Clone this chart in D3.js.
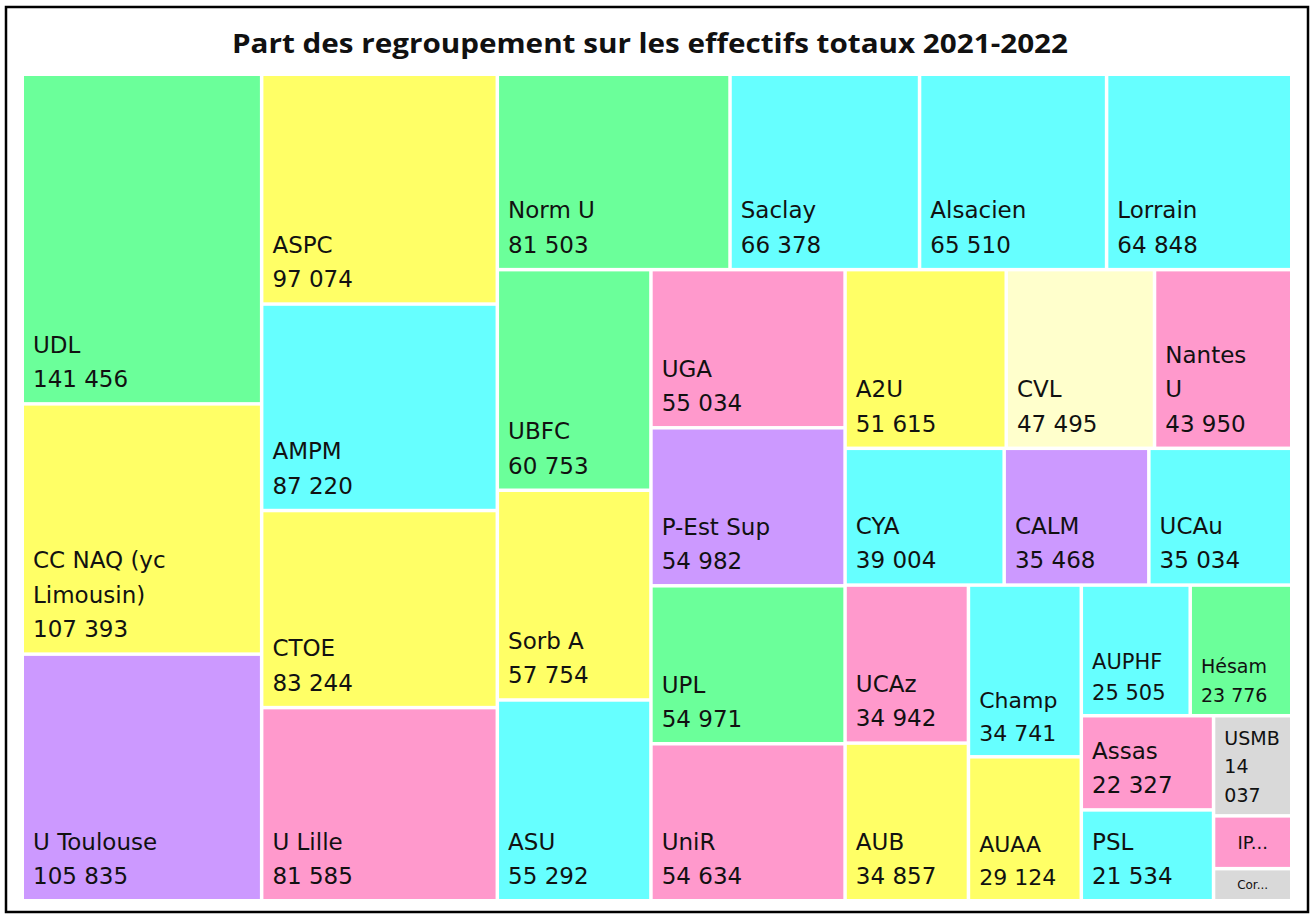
<!DOCTYPE html>
<html>
<head>
<meta charset="utf-8">
<script src="https://cdn.jsdelivr.net/npm/d3@7"></script>
<style>
  body { margin: 0; background: #fff; }
  svg { display: block; }
</style>
</head>
<body>
<svg id="chart"></svg>
<script>
var width = 1313,
    height = 915;

// data
var names = ["UDL", "CC NAQ (yc Limousin)", "U Toulouse", "ASPC", "AMPM", "CTOE", "U Lille",
             "Norm U", "Saclay", "Alsacien", "Lorrain", "UBFC", "Sorb A", "ASU", "UGA",
             "P-Est Sup", "UPL", "UniR", "A2U", "CVL", "Nantes U", "CYA", "CALM", "UCAu",
             "UCAz", "AUB", "Champ", "AUAA", "AUPHF", "Hésam", "Assas", "PSL", "USMB",
             "IP Paris", "Corse"];
var effectifs = [141456, 107393, 105835, 97074, 87220, 83244, 81585,
                 81503, 66378, 65510, 64848, 60753, 57754, 55292, 55034,
                 54982, 54971, 54634, 51615, 47495, 43950, 39004, 35468, 35034,
                 34942, 34857, 34741, 29124, 25505, 23776, 22327, 21534, 14037,
                 7400, 4500];
var groupes = ["A", "B", "C", "B", "D", "B", "E",
               "A", "D", "D", "D", "A", "B", "D", "E",
               "C", "A", "E", "B", "F", "E", "D", "C", "D",
               "E", "B", "D", "B", "D", "A", "E", "D", "G",
               "E", "G"];
var groupeKeys = ["A", "B", "C", "D", "E", "F", "G"];

var title = "Part des regroupement sur les effectifs totaux 2021-2022";

var color = d3.scaleOrdinal()
    .domain(groupeKeys)
    .range(["#6bff9a", "#ffff66", "#cc99ff", "#66ffff", "#ff99cc", "#ffffcc", "#d9d9d9"]);

var fr = d3.formatLocale({decimal: ",", thousands: " ", grouping: [3], currency: ["", " €"]}),
    fmt = fr.format(",d");

var area = {x: 24, y: 76, w: 1266, h: 823},
    labelFont = "'DejaVu Sans', sans-serif",
    pad = 9,
    padRight = 20;

var svg = d3.select("#chart")
    .attr("width", width)
    .attr("height", height);

// frame
svg.append("rect")
    .attr("x", 6).attr("y", 7)
    .attr("width", 1302).attr("height", 905)
    .attr("fill", "#fff")
    .attr("stroke", "#000")
    .attr("stroke-width", 2.5);

svg.append("text")
    .attr("x", 650)
    .attr("y", 53)
    .attr("text-anchor", "middle")
    .attr("font-family", "'Open Sans', sans-serif")
    .attr("font-weight", "bold")
    .attr("font-size", 26)
    .attr("textLength", 836)
    .attr("lengthAdjust", "spacingAndGlyphs")
    .attr("fill", "#111")
    .text(title);

var items = names.map((n, i) => ({name: n, value: effectifs[i], groupe: groupes[i]}));

var root = d3.hierarchy({children: items})
    .sum(d => d.value || 0)
    .sort((a, b) => b.value - a.value);

// squarified rows, a row keeps growing while the newly added cell
// is not less square than the previous one (Excel-like)
function tileRows(parent, x0, y0, x1, y1) {
    var nodes = parent.children,
        n = nodes.length,
        value = parent.value,
        i0 = 0;
    while (i0 < n) {
        var dx = x1 - x0, dy = y1 - y0,
            side = Math.min(dx, dy),
            k = dx * dy / value;
        var ratio = function(v, s) {
            var thick = s * k / side, len = v / s * side;
            return Math.max(thick / len, len / thick);
        };
        var sum = nodes[i0].value,
            last = ratio(sum, sum),
            i1 = i0 + 1;
        while (i1 < n) {
            var s2 = sum + nodes[i1].value,
                r = ratio(nodes[i1].value, s2);
            if (r > last) break;
            sum = s2;
            last = r;
            i1++;
        }
        var row = {value: sum, children: nodes.slice(i0, i1)};
        if (dx < dy) {
            var yy = i1 < n ? y0 + dy * sum / value : y1;
            d3.treemapDice(row, x0, y0, x1, yy);
            y0 = yy;
        } else {
            var xx = i1 < n ? x0 + dx * sum / value : x1;
            d3.treemapSlice(row, x0, y0, xx, y1);
            x0 = xx;
        }
        value -= sum;
        i0 = i1;
    }
}

d3.treemap()
    .tile(tileRows)
    .size([area.w, area.h])
    .paddingInner(3.5)(root);

var ctx = document.createElement("canvas").getContext("2d");
function measure(s, fs) {
    ctx.font = fs + "px " + labelFont;
    return ctx.measureText(s).width;
}

function wrap(str, fs, w) {
    var words = str.split(" "), lines = [], cur = "";
    words.forEach(function(wd) {
        var t = cur ? cur + " " + wd : wd;
        if (cur && measure(t, fs) > w) {
            lines.push(cur);
            cur = wd;
        } else {
            cur = t;
        }
    });
    if (cur) lines.push(cur);
    return lines;
}

function fitLabel(d) {
    var h = d.y1 - d.y0,
        num = fmt(d.data.value);
    // first keep the number on one line, then allow it to wrap
    for (var pass = 0; pass < 2; pass++) {
        var w = d.x1 - d.x0 - pad - (pass === 0 ? padRight : pad);
        for (var fs = 23; fs >= (pass === 0 ? 16 : 15); fs--) {
            var numLines = pass === 0 ? [num] : wrap(num, fs, w),
                lines = wrap(d.data.name, fs, w).concat(numLines),
                need = lines.length * fs * 1.5 + (pass === 0 ? 4 : fs * 0.5);
            if (lines.every(l => measure(l, fs) <= w) && need <= h) {
                return {fs: fs, lines: lines};
            }
        }
    }
    // too small: truncated name only
    var fs2 = Math.max(12, Math.min(18, Math.floor(h * 0.4))),
        lim = (d.x1 - d.x0 - 2 * pad) * 0.65,
        words = d.data.name.split(" "),
        s = null;
    for (var j = words.length - 1; j >= 1 && !s; j--) {
        var c = words.slice(0, j).join(" ") + "...";
        if (measure(c, fs2) <= lim) s = c;
    }
    if (!s) {
        s = d.data.name;
        while (s.length > 1 && measure(s + "...", fs2) > lim) s = s.slice(0, -1);
        s = s.trim() + "...";
    }
    return {fs: fs2, lines: [s], small: true};
}

var cell = svg.append("g")
    .attr("transform", "translate(" + area.x + "," + area.y + ")")
  .selectAll("g")
  .data(root.leaves())
  .join("g")
    .attr("transform", d => "translate(" + d.x0 + "," + d.y0 + ")");

cell.append("rect")
    .attr("width", d => d.x1 - d.x0)
    .attr("height", d => d.y1 - d.y0)
    .attr("fill", d => color(d.data.groupe));

cell.each(function(d) {
    var lab = fitLabel(d),
        g = d3.select(this),
        h = d.y1 - d.y0,
        lh = lab.fs * 1.5,
        n = lab.lines.length;
    var t = g.append("text")
        .attr("font-family", labelFont)
        .attr("font-size", lab.fs)
        .attr("fill", "#111");
    lab.lines.forEach(function(l, i) {
        t.append("tspan")
            .attr("x", lab.small ? (d.x1 - d.x0) / 2 : pad)
            .attr("text-anchor", lab.small ? "middle" : "start")
            .attr("y", lab.small ? h / 2 + lab.fs * 0.35 : h - lab.fs * 0.65 - (n - 1 - i) * lh)
            .text(l);
    });
});
</script>
</body>
</html>
